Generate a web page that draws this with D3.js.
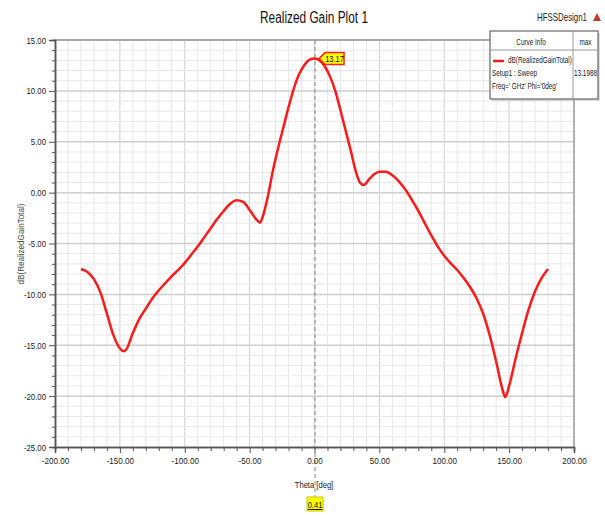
<!DOCTYPE html>
<html><head><meta charset="utf-8">
<script src="https://cdn.jsdelivr.net/npm/d3@7"></script>
<style>body{margin:0;background:#fff}svg{display:block}</style>
</head><body><svg id="c" width="605" height="516"></svg>
<script>
const theta = [-180,-175,-170,-165,-160,-155,-150,-147,-145,-140,-135,-130,-125,-120,-115,-110,-105,-100,-95,-90,-85,-80,-75,-70,-65,-60,-55,-50,-45,-42,-40,-36,-32,-28,-24,-20,-16,-12,-8,-4,0,4,8,12,16,20,24,28,32,35,38,42,46,50,55,60,65,70,75,80,85,90,95,100,105,110,115,120,125,130,135,140,145,147,150,155,160,165,170,175,180];
const gain = [-7.5,-7.8,-8.5,-9.8,-11.9,-14.0,-15.3,-15.6,-15.4,-13.8,-12.4,-11.4,-10.4,-9.6,-8.9,-8.2,-7.6,-6.9,-6.1,-5.3,-4.4,-3.5,-2.6,-1.8,-1.1,-0.75,-0.9,-1.7,-2.6,-2.95,-2.4,-0.4,2.2,4.4,6.4,8.4,10.2,11.6,12.5,13.05,13.17,13.0,12.4,11.4,10.0,8.1,6.1,4.1,2.0,1.0,0.75,1.3,1.8,2.05,2.05,1.7,1.1,0.3,-0.7,-1.8,-3.0,-4.2,-5.3,-6.2,-6.95,-7.6,-8.4,-9.3,-10.4,-11.9,-14.0,-16.6,-19.4,-20.1,-19.0,-16.3,-13.8,-11.5,-9.7,-8.4,-7.5];
const xTicks = [-200,-150,-100,-50,0,50,100,150,200];
const yTicks = [15,10,5,0,-5,-10,-15,-20,-25];
const markerTheta = [0.41];
const markerGain = [13.17];
const legendMax = ["13.1988"];

const F = "'Liberation Sans',Arial,sans-serif";
const svg = d3.select("#c");
const L=55, R=574, T=40, B=447;
const x = d3.scaleLinear().domain([-200,200]).range([L,R]);
const y = d3.scaleLinear().domain([-25,15]).range([B,T]);

function condense(sel,k){
  sel.each(function(){
    const w=this.getComputedTextLength();
    d3.select(this).attr("textLength",w*k).attr("lengthAdjust","spacingAndGlyphs");
  });
  return sel;
}

// grid
const g = svg.append("g");
g.selectAll(".vx").data(d3.range(-190,200,10)).join("line")
 .attr("x1",d=>x(d)).attr("x2",d=>x(d)).attr("y1",T).attr("y2",B)
 .attr("stroke",d=>d%50===0?"#cfcfcf":"#e8e8e8").attr("stroke-width",1);
g.selectAll(".hy").data(d3.range(-24,15,1)).join("line")
 .attr("y1",d=>y(d)).attr("y2",d=>y(d)).attr("x1",L).attr("x2",R)
 .attr("stroke",d=>d%5===0?"#cfcfcf":"#e8e8e8").attr("stroke-width",d=>d%5===0?1.5:1);
// frame
svg.append("line").attr("x1",L).attr("x2",R).attr("y1",T).attr("y2",T).attr("stroke","#a8a8a8").attr("stroke-width",2);
svg.append("line").attr("x1",R).attr("x2",R).attr("y1",T).attr("y2",B).attr("stroke","#999").attr("stroke-width",1.5);

// marker dashed vertical
svg.append("line").attr("x1",x(markerTheta[0])).attr("x2",x(markerTheta[0])).attr("y1",T).attr("y2",497)
 .attr("stroke","#888").attr("stroke-width",1).attr("stroke-dasharray","4,3");

// axes
const xAxis = d3.axisBottom(x).tickValues(xTicks).tickFormat(d=>d.toFixed(2)).tickSize(6).tickPadding(4);
const xa = svg.append("g").attr("transform",`translate(0,${B})`).call(xAxis);
const xMinor = svg.append("g").attr("transform",`translate(0,${B})`).call(d3.axisBottom(x).tickValues(d3.range(-190,200,10).filter(d=>d%50!==0)).tickSize(4).tickFormat(""));
const yAxis = d3.axisLeft(y).tickValues(yTicks).tickFormat(d=>d.toFixed(2)).tickSize(6).tickPadding(3);
const ya = svg.append("g").attr("transform",`translate(${L},0)`).call(yAxis);
const yMinor = svg.append("g").attr("transform",`translate(${L},0)`).call(d3.axisLeft(y).tickValues(d3.range(-24,15,1).filter(d=>d%5!==0)).tickSize(3).tickFormat(""));
[xa,ya,xMinor,yMinor].forEach(a=>{
  a.select(".domain").attr("stroke","#555").attr("stroke-width",1.5);
  a.selectAll(".tick line").attr("stroke","#555");
  a.selectAll("text").attr("font-family",F).attr("font-size",9.5).attr("fill","#222");
});
condense(xa.selectAll("text"),0.85);
condense(ya.selectAll("text"),0.82);

// curve
const line = d3.line().x((d,i)=>x(theta[i])).y(d=>y(d)).curve(d3.curveMonotoneX);
svg.append("path").attr("d",line(gain)).attr("fill","none").attr("stroke","#ff1a1a").attr("stroke-width",2.5);

// titles
condense(svg.append("text").attr("x",314).attr("y",23).attr("text-anchor","middle").attr("font-family",F).attr("font-size",16).attr("fill","#111").text("Realized Gain Plot 1"),0.74);
condense(svg.append("text").attr("x",587).attr("y",21).attr("text-anchor","end").attr("font-family",F).attr("font-size",10.5).attr("fill","#222").text("HFSSDesign1"),0.75);
svg.append("path").attr("d","M593,21 L597,13 L601,21 Z").attr("fill","#c0392b");
condense(svg.append("text").attr("x",314).attr("y",488).attr("text-anchor","middle").attr("font-family",F).attr("font-size",9.5).attr("fill","#222").text("Theta [deg]"),0.8);
condense(svg.append("text").attr("transform","translate(24,244) rotate(-90)").attr("text-anchor","middle").attr("font-family",F).attr("font-size",9.5).attr("fill","#444").text("dB(RealizedGainTotal)"),0.85);

// bottom marker label
const mx = x(markerTheta[0]);
svg.append("rect").attr("x",mx-8).attr("y",497).attr("width",16).attr("height",14).attr("fill","#ffff00").attr("stroke","#c8c800");
condense(svg.append("text").attr("x",mx).attr("y",508).attr("text-anchor","middle").attr("font-family",F).attr("font-size",9.5).attr("fill","#111").attr("text-decoration","underline").text(markerTheta[0].toFixed(2)),0.8);

// peak marker label
const px = x(markerTheta[0]), py = y(markerGain[0]);
svg.append("path").attr("d",`M${px+4},${py} L${px+10},${py-6} L${px+29},${py-6} L${px+29},${py+6} L${px+10},${py+6} Z`)
 .attr("fill","#ffff00").attr("stroke","#ff2020").attr("stroke-width",1.5);
condense(svg.append("text").attr("x",px+19.5).attr("y",py+3.5).attr("text-anchor","middle").attr("font-family",F).attr("font-size",9.5).attr("fill","#111").text(markerGain[0].toFixed(2)),0.78);

// legend
const lg = svg.append("g");
lg.append("rect").attr("x",492).attr("y",33).attr("width",108).attr("height",68).attr("fill","#bbb").attr("opacity",0.5);
lg.append("rect").attr("x",490).attr("y",31).attr("width",108).attr("height",68).attr("fill","#fff").attr("stroke","#666").attr("stroke-width",1.2);
lg.append("line").attr("x1",490).attr("x2",598).attr("y1",50).attr("y2",50).attr("stroke","#999");
lg.append("line").attr("x1",573).attr("x2",573).attr("y1",31).attr("y2",99).attr("stroke","#999");
const lt = (xx,yy,t,anchor,fs)=>condense(lg.append("text").attr("x",xx).attr("y",yy).attr("text-anchor",anchor||"start").attr("font-family",F).attr("font-size",fs||8.5).attr("fill","#222").text(t),0.75);
lt(531,45,"Curve Info","middle");
lt(585.5,45,"max","middle");
lg.append("line").attr("x1",493).attr("x2",504).attr("y1",61).attr("y2",61).attr("stroke","#ff1a1a").attr("stroke-width",2.5);
lt(508,63,"dB(RealizedGainTotal)");
lt(492,76,"Setup1 : Sweep");
lt(492,89,"Freq='   GHz' Phi='0deg'");
lt(585.5,76,legendMax[0],"middle");
</script></body></html>
